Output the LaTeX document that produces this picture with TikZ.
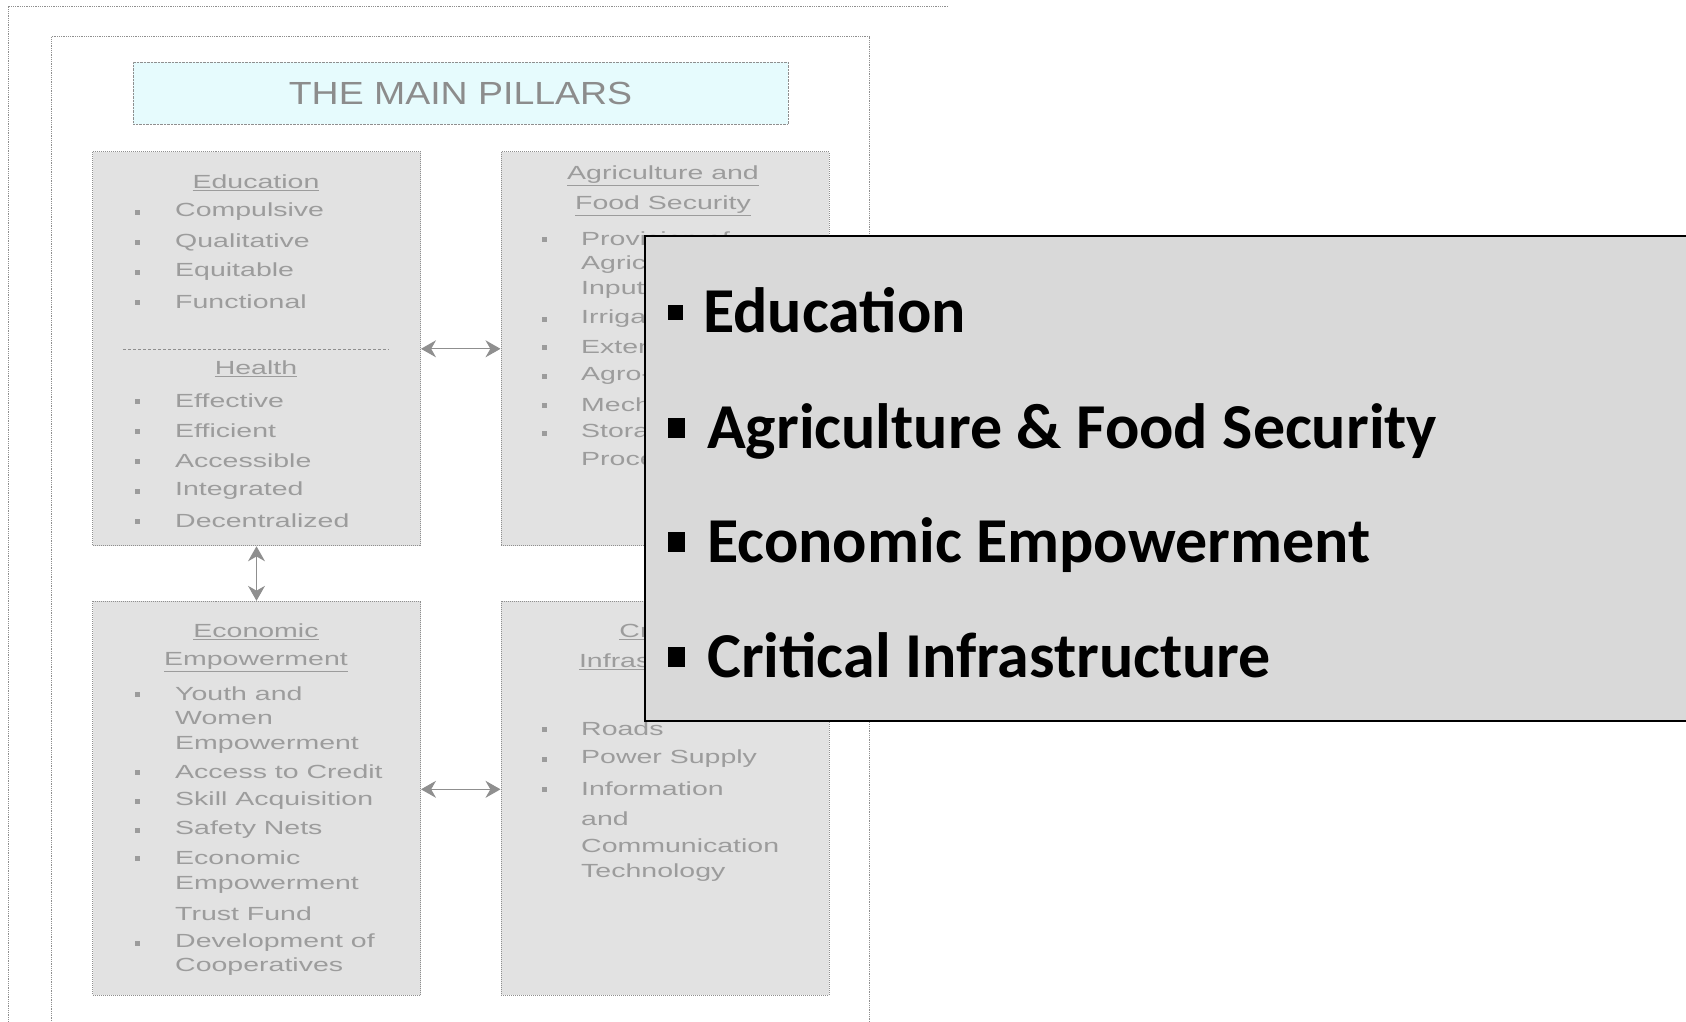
\documentclass[tikz,border=0pt]{standalone}
\usepackage{fontspec}
\newfontfamily\scanfont[FakeStretch=1.5]{Liberation Sans}
\newfontfamily\titlefont[FakeStretch=1.17]{Liberation Sans}
\newfontfamily\summaryfont{Carlito}
\usetikzlibrary{positioning,arrows.meta}

\definecolor{scanfill}{HTML}{E2E2E2}
\definecolor{scanline}{HTML}{8F8F8F}
\definecolor{scantext}{HTML}{9C9C9C}
\definecolor{titlefill}{HTML}{E6FBFD}
\definecolor{summaryfill}{HTML}{D9D9D9}

\tikzset{
  scan frame/.style={draw=scanline, densely dotted, line width=0.8pt},
  pillar/.style={draw=scanline, densely dotted, fill=scanfill, line width=1pt,
    minimum width=328pt, minimum height=394pt, inner sep=0pt},
  heading/.style={text=scantext, font=\scanfont\fontsize{19}{22}\selectfont, inner sep=0pt},
  item/.style={heading, anchor=west},
  dot/.style={fill=scantext, minimum size=5pt, inner sep=0pt},
  link/.style={<->, draw=scanline, line width=1pt},
  summary box/.style={draw=black, line width=2pt, fill=summaryfill, inner sep=0pt,
    anchor=north west, minimum width=1100pt, minimum height=485pt},
  summary item/.style={anchor=base west, inner sep=0pt,
    font=\summaryfont\bfseries\fontsize{64}{70}\selectfont},
  square/.style={fill=black, inner sep=0pt, minimum width=17pt, minimum height=20pt}
}

\begin{document}
\begin{tikzpicture}[x=1pt, y=-1pt, >={Stealth[length=15pt,width=17pt]}]

\useasboundingbox (0,0) rectangle (1686,1021);
\fill[white] (0,0) rectangle (1686,1021);

% scanned page frames
\draw[scan frame] (948,6) -- (8,6) -- (8,1030);
\draw[scan frame] (51.6,1030) -- (51.6,36.6) -- (869,36.6) -- (869,1030);

% title
\node [draw=scanline, densely dotted, fill=titlefill, minimum width=655pt, minimum height=62pt,
  text=black!45, font=\titlefont\fontsize{32}{36}\selectfont] (title) at (460.5,93) {THE MAIN PILLARS};

% pillars
\node [pillar] (edu) at (256.5,348.8) {};
\node [pillar] (agri) at (665,348.8) {};
\node [pillar] (econ) at (256.5,798.3) {};
\node [pillar] (infra) at (665,798.3) {};

% education and health
\node [heading] (edu-title) at (256,183) {\underline{Education}};
\foreach \t [count=\i] in {Compulsive, Qualitative, Equitable, Functional}
  \node [item] (edu-\i) at (175,182+30*\i) {\t};
\foreach \i in {1,...,4}
  \node [dot] at (137,182+30*\i) {};

\draw [draw=scanline, densely dashed, line width=0.8pt] (123,349) -- (389,349);

\node [heading] (health-title) at (256,369) {\underline{Health}};
\foreach \t [count=\i] in {Effective, Efficient, Accessible, Integrated, Decentralized}
  \node [item] (health-\i) at (175,371+30*\i) {\t};
\foreach \i in {1,...,5}
  \node [dot] at (137,371+30*\i) {};

% agriculture
\node [heading] (agri-title-1) at (663,176) {\underline{Agriculture and}};
\node [heading] (agri-title-2) at (663,206) {\underline{Food Security}};
\foreach \y/\t [count=\i] in {239/Provision of, 265/Agricultural, 290/Inputs, 319/Irrigation,
    347/Extension Services, 376/Agro-processing, 405/Mechanization, 433/Storage and, 461/Processing}
  \node [item] (agri-\i) at (581,\y) {\t};
\foreach \y in {239,319,347,376,405,433}
  \node [dot] at (544,\y) {};

% economic empowerment
\node [heading] (econ-title-1) at (256,632) {\underline{Economic}};
\node [heading] (econ-title-2) at (256,662) {\underline{Empowerment}};
\foreach \y/\t [count=\i] in {694/Youth and, 718/Women, 745/Empowerment, 772/Access to Credit,
    801/Skill Acquisition, 830/Safety Nets, 858/Economic, 885/Empowerment, 914/Trust Fund,
    943/Development of, 967/Cooperatives}
  \node [item] (econ-\i) at (175,\y) {\t};
\foreach \y in {694,772,801,830,858,943}
  \node [dot] at (137,\y) {};

% critical infrastructure
\node [heading] (infra-title-1) at (663,632) {\underline{Critical}};
\node [heading] (infra-title-2) at (663,662) {\underline{Infrastructure}};
\foreach \y/\t [count=\i] in {729/Roads, 759/Power Supply, 789/Information, 819/and,
    846/Communication, 873/Technology}
  \node [item] (infra-\i) at (581,\y) {\t};
\foreach \y in {729,759,789}
  \node [dot] at (544,\y) {};

% links between pillars
\draw [link] (edu) -- (agri);
\draw [link] (edu) -- (econ);
\draw [link] ([yshift=9pt]econ.east) -- ([yshift=9pt]infra.west);

% summary panel
\node [summary box] (summary) at (643.5,235) {};

\node [square, minimum width=15pt, minimum height=15pt] (sq-1) at (675,312.5) {};
\node [summary item] (sum-1) at (703,332) {Education};
\foreach \t/\y [count=\i from 2] in {Agriculture \& Food Security/448,
    Economic Empowerment/562, Critical Infrastructure/677}
{
  \node [square] (sq-\i) at (676.5,\y-20.5) {};
  \node [summary item] (sum-\i) at (707,\y) {\t};
}

\end{tikzpicture}
\end{document}
